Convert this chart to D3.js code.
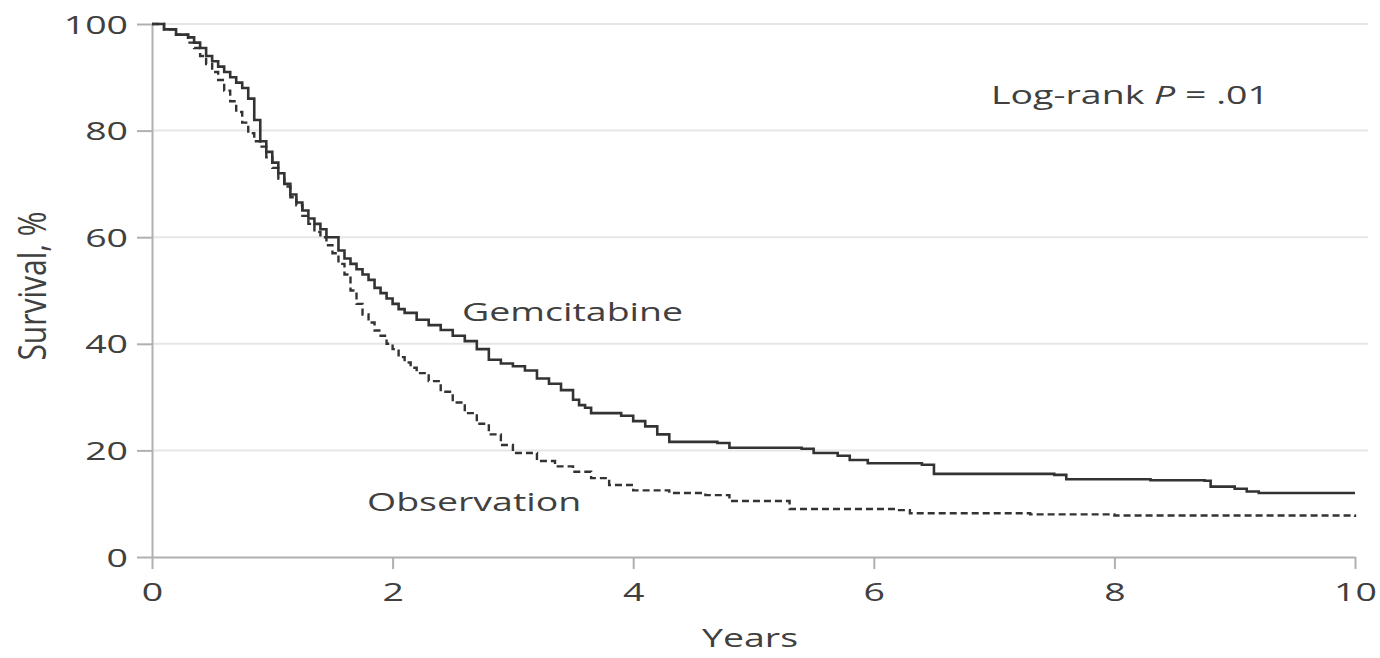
<!DOCTYPE html>
<html>
<head>
<meta charset="utf-8">
<script src="https://cdn.jsdelivr.net/npm/d3@7"></script>
<style>
  body { margin: 0; background: #fff; }
  text { font-family: "Open Sans", sans-serif; fill: #404040; }
</style>
</head>
<body>
<svg id="chart" width="1380" height="658"></svg>
<script>
// Kaplan-Meier values (years, survival %)
const gemYears = [0, 0.1, 0.2, 0.3, 0.35, 0.4, 0.45, 0.5, 0.55, 0.6, 0.65, 0.7, 0.75, 0.8, 0.85, 0.9, 0.95, 1.0, 1.05, 1.1, 1.15, 1.2, 1.25, 1.3, 1.35, 1.4, 1.45, 1.55, 1.6, 1.65, 1.7, 1.75, 1.8, 1.85, 1.9, 1.95, 2.0, 2.05, 2.1, 2.2, 2.3, 2.4, 2.5, 2.6, 2.7, 2.8, 2.9, 3.0, 3.1, 3.2, 3.3, 3.4, 3.5, 3.55, 3.6, 3.65, 3.9, 4.0, 4.1, 4.2, 4.3, 4.7, 4.8, 5.4, 5.5, 5.7, 5.8, 5.95, 6.4, 6.5, 7.5, 7.6, 8.3, 8.75, 8.8, 9.0, 9.1, 9.2, 10];
const gemSurv  = [100, 99, 98, 97.5, 96.5, 95.5, 94, 93, 92, 91, 90, 89, 88, 86, 82, 78, 76, 74, 72, 70, 68, 66.5, 65, 63.5, 62.5, 61.5, 60, 57.5, 56, 55, 54, 53, 52, 50.5, 49.5, 48.5, 47.5, 46.5, 45.8, 44.5, 43.5, 42.6, 41.5, 40.5, 39, 37, 36.3, 35.8, 35, 33.5, 32.5, 31.3, 29.5, 28.5, 28, 27, 26.5, 25.5, 24.5, 23, 21.6, 21.4, 20.5, 20.3, 19.5, 19, 18.2, 17.6, 17.3, 15.6, 15.4, 14.6, 14.4, 14.3, 13.2, 12.8, 12.3, 12, 12];

const obsYears = [0, 0.1, 0.2, 0.3, 0.35, 0.4, 0.45, 0.5, 0.55, 0.6, 0.65, 0.7, 0.75, 0.8, 0.85, 0.9, 0.95, 1.0, 1.05, 1.1, 1.15, 1.2, 1.25, 1.3, 1.35, 1.4, 1.45, 1.5, 1.55, 1.6, 1.65, 1.7, 1.75, 1.8, 1.85, 1.9, 1.95, 2.0, 2.05, 2.1, 2.15, 2.2, 2.3, 2.4, 2.5, 2.6, 2.7, 2.8, 2.9, 3.0, 3.2, 3.35, 3.5, 3.65, 3.8, 4.0, 4.3, 4.6, 4.8, 5.3, 6.2, 6.3, 7.3, 8.0, 10];
const obsSurv  = [100, 99, 98, 96.5, 95.5, 94, 92.5, 91, 89.5, 87.5, 85.5, 83.5, 81.5, 79.5, 78, 77, 75, 73, 71, 69.5, 67.5, 66, 64, 62.5, 61, 60, 58.5, 57, 55, 53, 50, 47.5, 45.5, 44, 42.5, 41.5, 40, 39, 37.5, 36.5, 35.5, 34.5, 33, 31, 29, 27, 25, 23, 21, 19.5, 18, 17, 16, 14.8, 13.5, 12.5, 12, 11.6, 10.5, 9, 8.8, 8.2, 8, 7.8, 7.5];

const xTicks = [0, 2, 4, 6, 8, 10];
const yTicks = [0, 20, 40, 60, 80, 100];

const sx = 1.5; // text in the figure is stretched horizontally

const svg = d3.select('#chart');
const x = d3.scaleLinear().domain([0, 10]).range([152, 1355]);
const y = d3.scaleLinear().domain([0, 100]).range([557, 24]);

// gridlines
svg.append('g')
  .selectAll('line')
  .data(yTicks.filter(d => d > 0))
  .enter().append('line')
  .attr('x1', x(0)).attr('x2', 1368)
  .attr('y1', d => y(d)).attr('y2', d => y(d))
  .attr('stroke', '#e6e6e6')
  .attr('stroke-width', 2);

// axes
const yAxis = svg.append('g')
  .attr('transform', `translate(${x(0)},0)`)
  .call(d3.axisLeft(y).tickValues(yTicks).tickSize(15).tickSizeOuter(0));
const xAxis = svg.append('g')
  .attr('transform', `translate(0,${y(0)})`)
  .call(d3.axisBottom(x).tickValues(xTicks).tickSize(12).tickSizeOuter(0));

[yAxis, xAxis].forEach(g => {
  g.select('.domain').attr('stroke', '#b0b0b0').attr('stroke-width', 2);
  g.selectAll('.tick line').attr('stroke', '#b0b0b0').attr('stroke-width', 2);
  g.selectAll('.tick text')
    .style('font-family', '"Open Sans", sans-serif')
    .attr('font-size', 25)
    .attr('fill', '#404040');
});
yAxis.selectAll('.tick text')
  .attr('x', -24 / sx)
  .attr('dy', '0.36em')
  .attr('transform', `scale(${sx},1)`);
xAxis.selectAll('.tick text')
  .attr('y', 44)
  .attr('dy', 0)
  .attr('transform', `scale(${sx},1)`);

// curves
const line = d3.line()
  .x(d => x(d[0]))
  .y(d => y(d[1]))
  .curve(d3.curveStepAfter);

svg.append('path')
  .datum(gemYears.map((t, i) => [t, gemSurv[i]]))
  .attr('d', line)
  .attr('fill', 'none')
  .attr('stroke', '#333')
  .attr('stroke-width', 2.6);

svg.append('path')
  .datum(obsYears.map((t, i) => [t, obsSurv[i]]))
  .attr('d', line)
  .attr('fill', 'none')
  .attr('stroke', '#333')
  .attr('stroke-width', 2.4)
  .attr('stroke-dasharray', '7,4');

// labels
function label(px, py, txt, anchor) {
  return svg.append('text')
    .attr('transform', `translate(${px},${py}) scale(${sx},1)`)
    .attr('text-anchor', anchor || 'start')
    .attr('font-size', 25)
    .text(txt);
}

label(462, 321, 'Gemcitabine');
label(367, 511, 'Observation');
label(750, 647, 'Years', 'middle');

const lr = label(991, 104, 'Log-rank ');
lr.append('tspan').attr('font-style', 'italic').text('P');
lr.append('tspan').text(' = .01');

svg.append('text')
  .attr('transform', 'translate(46,286) scale(1.25,1) rotate(-90)')
  .attr('text-anchor', 'middle')
  .attr('font-size', 30)
  .text('Survival, %');
</script>
</body>
</html>
